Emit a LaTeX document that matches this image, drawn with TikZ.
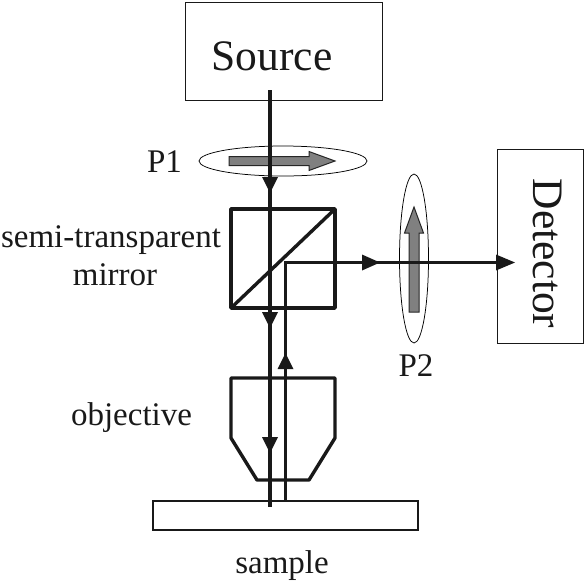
\documentclass[tikz,border=0pt]{standalone}
\usepackage{fontspec}
\setmainfont{Liberation Serif}
\usetikzlibrary{arrows.meta,shapes.geometric}
\tikzset{
  thinbox/.style={draw=black!90,line width=0.9pt},
  downbeam/.style={draw=black!90,line width=3.4pt},
  upbeam/.style={draw=black!90,line width=2.8pt,line join=miter},
  optic/.style={draw=black!90,line width=3.4pt,line join=round},
  lens/.style={draw=black,line width=0.75pt},
  pol/.style={draw=black!85,fill=black!50,line width=1pt,line join=miter},
  head/.style={fill=black!90},
  lab/.style={inner sep=0pt,anchor=base,font=\fontsize{33}{36}\selectfont,text=black!90},
  big/.style={inner sep=0pt,anchor=base,font=\fontsize{43.5}{46}\selectfont,text=black!90}
}
\begin{document}
\begin{tikzpicture}[x=1pt,y=-1pt]
\useasboundingbox (0,0) rectangle (586,582);
% boxes
\node[thinbox,minimum width=197pt,minimum height=98pt,inner sep=0pt] (source) at (284,51) {};
\node[big] (sourcetext) at (272,70) {Source};
\node[thinbox,minimum width=86pt,minimum height=194pt,inner sep=0pt] (detector) at (540,246) {};
\node[big,rotate=-90] (detectortext) at (533.5,253.5) {Detector};
\node[draw=black!90,line width=1.8pt,minimum width=265pt,minimum height=29pt,inner sep=0pt] (sample) at (285.5,515.5) {};
% polarisers
\node[lens,ellipse,minimum width=168pt,minimum height=30pt,inner sep=0pt] (p1) at (283,161) {};
\node[lens,ellipse,minimum width=29pt,minimum height=169pt,inner sep=0pt] (p2) at (414,258.5) {};
\filldraw[pol] (229,156.5) -- (309,156.5) -- (309,151.5) -- (335,161) -- (309,170.5) -- (309,165.5) -- (229,165.5) -- cycle;
\filldraw[pol] (409,312) -- (409,233) -- (404.5,233) -- (414,207) -- (423.5,233) -- (419,233) -- (419,312) -- cycle;
% cube and objective
\draw[optic] (231,209) rectangle (335,308);
\draw[optic] (231,308) -- (335,209);
\draw[optic] (231,378) -- (335,378) -- (335,438) -- (309,480) -- (257,480) -- (231,438) -- cycle;
% beams
\coordinate (beamtop) at (270,90);
\coordinate (beamend) at (270,507);
\coordinate (ret) at (285.5,501);
\coordinate (turn) at (285.5,262.5);
\draw[downbeam] (beamtop) -- (beamend);
\draw[upbeam] (ret) -- (turn) -- (detector.west |- turn);
\fill[head] (262,177) -- (278,177) -- (270,193) -- cycle;
\fill[head] (262,312) -- (278,312) -- (270,328) -- cycle;
\fill[head] (262,437) -- (278,437) -- (270,453) -- cycle;
\fill[head] (277.5,369) -- (293.5,369) -- (285.5,353) -- cycle;
\fill[head] (362,254.5) -- (362,270.5) -- (380,262.5) -- cycle;
\fill[head] (496,254.5) -- (496,270.5) -- (515,262.5) -- cycle;
% labels
\node[lab] (p1t) at (164.5,172) {P1};
\node[lab] (p2t) at (416,376) {P2};
\node[lab] (smt1) at (111,247) {semi-transparent};
\node[lab] (smt2) at (115,285) {mirror};
\node[lab] (objt) at (131.5,425) {objective};
\node[lab] (samt) at (282,573) {sample};
\end{tikzpicture}
\end{document}
